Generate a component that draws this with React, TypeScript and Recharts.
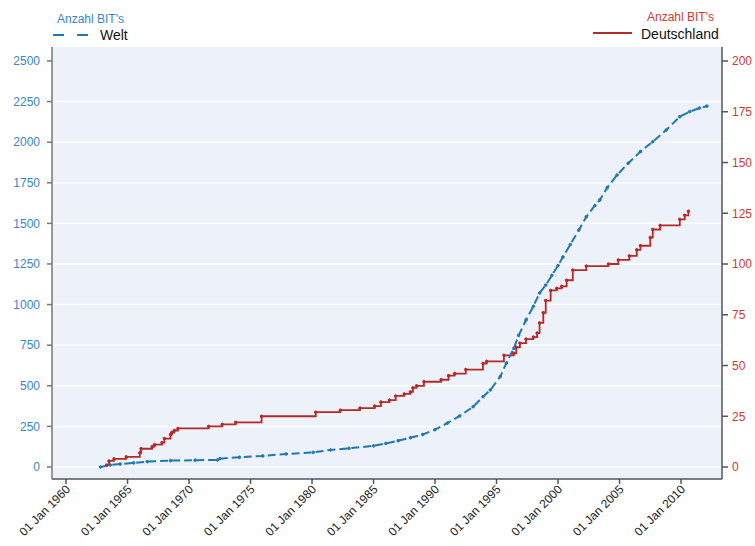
import React from "react"
import {
  LineChart,
  Line,
  XAxis,
  YAxis,
  CartesianGrid,
  ReferenceLine,
} from "recharts"

// Welt: cumulative BITs (left axis)
const worldYears = [
  1962.8, 1963.6, 1964.4, 1965.5, 1966.6, 1968.5, 1970.5, 1972.3, 1972.5, 1974.1,
  1976.0, 1977.9, 1980.1, 1981.5, 1983.0, 1985.0, 1986.0, 1987.0, 1988.0, 1989.0,
  1990.0, 1991.0, 1992.0, 1993.1, 1993.9, 1994.5, 1995.3, 1995.8, 1996.4, 1996.8,
  1997.4, 1998.0, 1998.5, 1999.0, 1999.5, 2000.0, 2000.4, 2001.0, 2001.7, 2002.3,
  2003.0, 2003.4, 2004.0, 2004.8, 2005.7, 2006.7, 2007.7, 2008.8, 2009.9, 2010.7,
  2011.5, 2012.1,
]
const worldCounts = [
  0, 12, 18, 25, 33, 39, 42, 43, 51, 60,
  68, 80, 90, 105, 115, 130, 145, 162, 180, 200,
  230, 270, 314, 371, 433, 474, 556, 639, 730, 810,
  905, 990, 1071, 1120, 1180, 1240, 1293, 1370, 1460, 1541,
  1610, 1644, 1720, 1798, 1870, 1942, 2003, 2075, 2157, 2188,
  2210, 2222,
]

// Deutschland: cumulative BITs (right axis)
const germanyYears = [
  1963.3, 1963.5, 1963.9, 1964.9, 1966.0, 1966.1, 1967.0, 1967.2, 1967.8, 1968.0,
  1968.5, 1968.6, 1968.8, 1969.1, 1971.6, 1972.7, 1973.8, 1975.9, 1980.3, 1982.3,
  1983.9, 1985.1, 1985.6, 1986.3, 1986.8, 1987.5, 1988.0, 1988.2, 1988.5, 1989.1,
  1990.5, 1991.1, 1991.6, 1992.5, 1993.9, 1994.2, 1995.6, 1996.4, 1996.6, 1996.9,
  1997.4, 1998.0, 1998.3, 1998.5, 1998.8, 1999.0, 1999.4, 1999.9, 2000.3, 2000.7,
  2001.2, 2002.3, 2004.1, 2004.9, 2005.8, 2006.4, 2006.7, 2007.5, 2007.7, 2008.3,
  2009.9, 2010.3, 2010.6,
]
const germanyCounts = [
  1, 3, 4, 5, 7, 9, 10, 11, 12, 14,
  16, 17, 18, 19, 20, 21, 22, 25, 27, 28,
  29, 30, 32, 33, 35, 36, 37, 39, 40, 42,
  43, 45, 46, 48, 51, 52, 55, 56, 59, 61,
  63, 64, 66, 71, 76, 82, 87, 88, 89, 92,
  97, 99, 100, 102, 104, 107, 109, 113, 117, 119,
  122, 124, 126,
]

const xTicks = [1960, 1965, 1970, 1975, 1980, 1985, 1990, 1995, 2000, 2005, 2010]
const leftTicks = [0, 250, 500, 750, 1000, 1250, 1500, 1750, 2000, 2250, 2500]
const rightTicks = [0, 25, 50, 75, 100, 125, 150, 175, 200]
const gridValues = [0, 250, 500, 750, 1000, 1250, 1500, 1750, 2000, 2250]

const worldData = worldYears.map((year, i) => ({ year, welt: worldCounts[i] }))
const germanyData = germanyYears.map((year, i) => ({ year, de: germanyCounts[i] }))

const BLUE = "#1f77b4"
const BLUE_TEXT = "#3a85c6"
const RED = "#b52a25"
const RED_TEXT = "#cc3b32"
const FONT = "'Liberation Sans', Arial, sans-serif"

const DateTick = ({ x, y, payload }: any) => (
  <g transform={`translate(${x + 5},${y + 4})`}>
    <text
      textAnchor="end"
      transform="rotate(-45)"
      fontSize={12}
      fill="#222"
      fontFamily={FONT}
    >
      {`01 Jan ${payload.value}`}
    </text>
  </g>
)

export default function App() {
  return (
    <div style={{ position: "fixed", left: 0, top: 0, width: 755, height: 546, background: "#fff", fontFamily: FONT }}>
      <div style={{ position: "absolute", left: 57, top: 12, fontSize: 12, color: BLUE_TEXT }}>Anzahl BIT's</div>
      <svg style={{ position: "absolute", left: 52, top: 30 }} width={44} height={10}>
        <line x1={1} y1={5} x2={40} y2={5} stroke={BLUE} strokeWidth={2} strokeDasharray="11 13" />
      </svg>
      <div style={{ position: "absolute", left: 100, top: 27, fontSize: 14, color: "#111" }}>Welt</div>

      <div style={{ position: "absolute", left: 647, top: 10, fontSize: 12, color: RED_TEXT }}>Anzahl BIT's</div>
      <svg style={{ position: "absolute", left: 592, top: 28 }} width={44} height={10}>
        <line x1={1} y1={5} x2={40} y2={5} stroke={RED} strokeWidth={2} />
      </svg>
      <div style={{ position: "absolute", left: 641, top: 26, fontSize: 14, color: "#111" }}>Deutschland</div>

      <LineChart width={755} height={546} margin={{ top: 47, right: 8, left: 8, bottom: 7 }}>
        <CartesianGrid horizontal={false} vertical={false} fill="#edf1fa" yAxisId="left" />
        <XAxis
          type="number"
          dataKey="year"
          domain={[1958.86, 2013.33]}
          ticks={xTicks}
          allowDataOverflow
          height={60}
          tick={<DateTick />}
          tickSize={5}
          stroke="#555"
          strokeWidth={1.5}
        />
        <YAxis
          yAxisId="left"
          width={44}
          domain={[-74, 2586]}
          ticks={leftTicks}
          allowDataOverflow
          tickSize={5}
          tickMargin={7}
          stroke="#777"
          strokeWidth={1.5}
          tick={{ fill: BLUE_TEXT, fontSize: 12, fontFamily: FONT }}
        />
        <YAxis
          yAxisId="right"
          orientation="right"
          width={25}
          domain={[-5.9, 206.9]}
          ticks={rightTicks}
          allowDataOverflow
          tickSize={6}
          tickMargin={4}
          stroke="#555"
          strokeWidth={1.5}
          tick={{ fill: RED_TEXT, fontSize: 12, fontFamily: FONT }}
        />
        {gridValues.map((v) => (
          <ReferenceLine key={v} yAxisId="left" y={v} stroke="#ffffff" strokeWidth={1.5} />
        ))}
        <Line
          yAxisId="right"
          data={germanyData}
          dataKey="de"
          type="stepAfter"
          stroke={RED}
          strokeWidth={1.8}
          dot={{ r: 1.3, fill: RED, stroke: RED, strokeWidth: 1 }}
          isAnimationActive={false}
        />
        <Line
          yAxisId="left"
          data={worldData}
          dataKey="welt"
          type="linear"
          stroke={BLUE}
          strokeWidth={2}
          strokeDasharray="8 4"
          dot={{ r: 1.3, fill: BLUE, stroke: BLUE, strokeWidth: 1 }}
          isAnimationActive={false}
        />
      </LineChart>
    </div>
  )
}
